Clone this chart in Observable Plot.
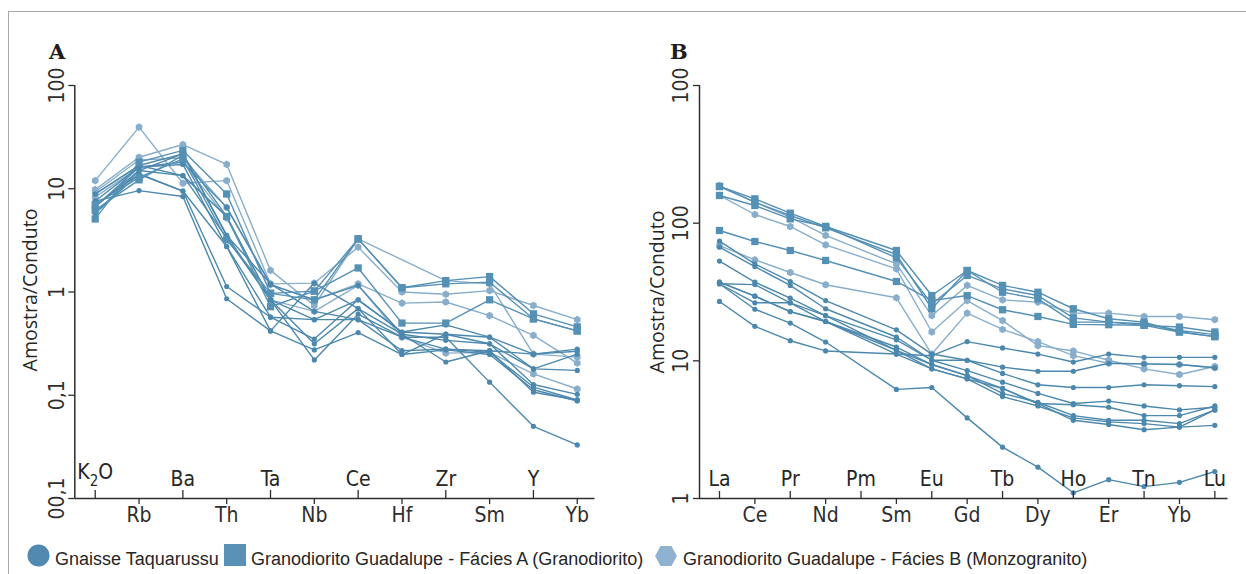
<!DOCTYPE html>
<html>
<head>
<meta charset="utf-8">
<script src="https://cdn.jsdelivr.net/npm/d3@7"></script>
<script src="https://cdn.jsdelivr.net/npm/@observablehq/plot@0.6"></script>
<style>
html, body { margin: 0; padding: 0; background: #ffffff; }
#root { position: relative; width: 1246px; height: 574px; overflow: hidden; }
#frame { position: absolute; left: 8px; top: 11px; width: 1300px; height: 620px;
  border-top: 1.5px solid #a9a9a9; border-left: 1.5px solid #a9a9a9; box-sizing: border-box; }
.panel { position: absolute; top: 0; }
#overlay { position: absolute; left: 0; top: 0; }
</style>
</head>
<body>
<div id="root">
  <div id="frame"></div>
  <div id="panelA" class="panel" style="left:0px;width:620px;"></div>
  <div id="panelB" class="panel" style="left:620px;width:626px;"></div>
  <svg id="overlay" width="1246" height="574"></svg>
</div>
<script>
// ---------------- DATA ----------------
// Panel A: multi-element spider diagram (Amostra/Conduto)
const catsA = ["K2O", "Rb", "Ba", "Th", "Ta", "Nb", "Ce", "Hf", "Zr", "Sm", "Y", "Yb"];
const yTicksA = [0.01, 0.1, 1, 10, 100];
const yLabelsA = ["00,1", "0,1", "1", "10", "100"];

const gnaisseA = [
  [8.9, 16.8, 21.8, 3.53, 0.84, 0.22, 0.61, 0.365, 0.365, 0.134, 0.050, 0.033],
  [7.6, 16.2, 17.2, 2.76, 0.57, 0.35, 0.84, 0.41, 0.39, 0.365, 0.18, 0.174],
  [6.7, 15.0, 13.4, 3.35, 0.84, 0.315, 0.69, 0.39, 0.34, 0.315, 0.127, 0.102],
  [5.8, 13.9, 9.5, 1.13, 0.57, 0.54, 0.54, 0.365, 0.28, 0.26, 0.12, 0.090],
  [7.6, 9.6, 8.4, 0.86, 0.42, 0.275, 0.405, 0.248, 0.275, 0.248, 0.113, 0.088],
  [6.7, 16.2, 18.1, 6.6, 1.18, 0.84, 1.16, 0.39, 0.21, 0.27, 0.25, 0.28],
  [5.8, 15.0, 21.8, 3.53, 1.20, 0.65, 0.54, 0.27, 0.28, 0.27, 0.107, 0.090],
  [8.9, 16.8, 13.4, 5.4, 0.84, 0.54, 0.84, 0.41, 0.48, 0.365, 0.25, 0.267],
  [7.0, 13.9, 9.5, 2.76, 0.42, 1.22, 0.69, 0.248, 0.39, 0.315, 0.18, 0.25]
];
const faciesA_A = [
  [5.1, 18.1, 23.5, 8.9, 0.97, 1.02, 3.27, 1.10, 1.29, 1.41, 0.615, 0.46],
  [6.2, 12.2, 21.0, 5.4, 0.72, 1.02, 1.71, 0.50, 0.50, 0.84, 0.55, 0.42],
  [7.0, 12.9, 19.5, 3.2, 0.97, 0.84, 3.27, 1.10, 1.20, 1.245, 0.55, 0.42]
];
const faciesB_A = [
  [12.0, 39.5, 11.3, 12.0, 1.20, 1.22, 2.72, 1.0, 0.95, 1.03, 0.74, 0.54],
  [9.8, 20.2, 26.8, 17.2, 1.62, 0.74, 3.27, null, 1.29, 1.20, 0.25, 0.234],
  [9.3, 19.0, 19.9, 6.6, 1.18, 0.84, 1.20, 0.78, 0.80, 0.59, 0.38, 0.205],
  [8.3, 16.2, 18.1, 5.2, 0.84, 0.65, 1.16, 0.365, 0.256, 0.26, 0.161, 0.115]
];

// Panel B: REE spider diagram
const catsB = ["La", "Ce", "Pr", "Nd", "Pm", "Sm", "Eu", "Gd", "Tb", "Dy", "Ho", "Er", "Tn", "Yb", "Lu"];
const yTicksB = [1, 10, 100, 1000];
const yLabelsB = ["1", "10", "100", "100"];

const gnaisseB = [
  [36.3, 23.7, 18.8, 13.7, null, 6.2, 6.4, 3.85, 2.36, 1.69, 1.10, 1.37, 1.22, 1.31, 1.57],
  [27.0, 17.8, 14.0, 11.8, null, 11.2, 10.9, 13.8, 12.4, 11.2, 9.8, 11.2, 10.6, 10.6, 10.6],
  [74.0, 50.6, 37.7, 27.4, null, 16.8, 11.2, 10.1, 9.0, 8.4, 8.4, 9.6, 9.5, 9.4, 8.9],
  [66.9, 48.4, 35.3, 23.9, null, 14.9, 10.1, 10.1, 8.1, 6.7, 6.4, 6.4, 6.7, 6.6, 6.5],
  [53.0, 37.3, 28.5, 21.3, null, 14.2, 10.1, 8.5, 7.0, 5.8, 4.9, 5.1, 4.7, 4.4, 4.6],
  [36.3, 35.8, 26.4, 19.3, null, 12.6, 9.4, 7.8, 6.3, 4.9, 4.8, 4.6, 4.0, 4.0, 4.7],
  [37.3, 29.5, 22.8, 19.3, null, 11.9, 9.4, 7.8, 5.8, 5.0, 4.0, 3.7, 3.7, 3.5, 4.4],
  [36.3, 26.4, 26.4, 21.3, null, 11.9, 8.75, 7.4, 5.5, 4.7, 3.85, 3.6, 3.5, 3.3, 3.4],
  [37.3, 29.5, 22.8, 19.3, null, 11.2, 8.75, 7.4, 6.3, 4.9, 3.7, 3.45, 3.16, 3.3, 4.4]
];
const faciesA_B = [
  [184.6, 150.2, 118.2, 94.6, null, 63.3, 29.8, 45.3, 35.3, 31.5, 23.9, 20.2, 19.1, 16.2, 15.0],
  [158.9, 134.4, 107.5, 94.6, null, 56.0, 25.9, 41.7, 33.3, 29.8, 20.5, 19.1, 18.1, 17.6, 16.2],
  [88.5, 73.6, 63.3, 53.6, null, 37.7, 27.4, 29.8, 23.5, 21.0, 18.4, 18.3, 18.1, 16.2, 15.0],
  [184.6, 142.0, 113.7, 92.5, null, 59.2, 23.9, 45.3, 31.5, 28.2, 19.1, 19.1, 18.6, 16.6, 15.5]
];
const faciesB_B = [
  [187.7, 142.0, 110.6, 81.4, null, 50.6, 21.3, 35.3, 27.7, 26.7, 22.2, 22.2, 21.0, 21.0, 19.9],
  [158.9, 115.6, 94.6, 69.6, null, 46.6, 16.2, 27.4, 19.6, 12.9, 11.8, 10.1, 8.75, 7.96, 9.1],
  [68.8, 54.2, 43.8, 35.7, null, 28.7, 11.2, 22.2, 16.9, 13.8, 10.9, 9.6, 9.5, 9.4, 8.9]
];

const groupNames = [
  "Gnaisse Taquarussu",
  "Granodiorito Guadalupe - Fácies A (Granodiorito)",
  "Granodiorito Guadalupe - Fácies B (Monzogranito)"
];

// ---------------- STYLE ----------------
const colGnaisse = "#4c88ad";
const colFaciesA = "#5590b5";
const colFaciesB = "#88aecb";
const axisColor = "#2e2e2e";
const textColor = "#262626";
const tickFont = "'Liberation Sans Narrow', 'DejaVu Sans Condensed', 'Liberation Sans', sans-serif";

function records(rows, tag) {
  const out = [];
  rows.forEach((vals, s) => vals.forEach((v, i) => {
    if (v != null) out.push({series: tag + s, i, v});
  }));
  return out;
}

function dataMarks(gn, fa, fb) {
  const rG = records(gn, "g"), rA = records(fa, "a"), rB = records(fb, "b");
  const line = (r, c) => Plot.line(r, {x: "i", y: "v", z: "series", stroke: c, strokeWidth: 1.4, strokeLinejoin: "round"});
  return [
    line(rB, colFaciesB),
    Plot.dot(rB, {x: "i", y: "v", symbol: "hexagon", r: 3.3, fill: colFaciesB}),
    line(rG, colGnaisse),
    Plot.dot(rG, {x: "i", y: "v", symbol: "circle", r: 2.6, fill: colGnaisse}),
    line(rA, colFaciesA),
    Plot.dot(rA, {x: "i", y: "v", symbol: "square", r: 4.1, fill: colFaciesA})
  ];
}

function panel({cats, xDomain, yDomain, yTicks, yLabels, width, marginLeft, marginRight, tickPad, upTick, gn, fa, fb}) {
  const even = cats.map((_, i) => i).filter(i => i % 2 === 0);
  const odd = cats.map((_, i) => i).filter(i => i % 2 === 1);
  const height = 540, marginTop = 85, marginBottom = 42;
  const frameH = height - marginTop - marginBottom;
  const evenPlain = even.filter(i => cats[i] !== "K2O");
  const evenK = even.filter(i => cats[i] === "K2O");
  return Plot.plot({
    width, height, marginLeft, marginRight, marginTop, marginBottom,
    x: {type: "linear", domain: xDomain},
    y: {type: "log", domain: yDomain},
    style: {fontFamily: tickFont, fontSize: "21px", color: textColor, background: "transparent", overflow: "visible"},
    marks: [
      ...dataMarks(gn, fa, fb),
      Plot.ruleX([xDomain[0]], {stroke: axisColor, strokeWidth: 1.5}),
      Plot.ruleY([yDomain[0]], {stroke: axisColor, strokeWidth: 1.5}),
      Plot.axisY({
        ticks: yTicks, tickFormat: d => yLabels[yTicks.indexOf(d)],
        tickRotate: -90, tickSize: 6, tickPadding: tickPad, label: null,
        fontSize: 21, fontFamily: tickFont, color: axisColor, strokeWidth: 1.3
      }),
      Plot.axisX({
        ticks: odd, tickFormat: i => cats[i], tickSize: 6, tickPadding: 3, label: null,
        fontSize: 21, fontFamily: tickFont, color: axisColor, strokeWidth: 1.3
      }),
      Plot.ruleX(even, {x: d => d, insetTop: frameH - upTick, stroke: axisColor, strokeWidth: 1.3}),
      Plot.text(evenPlain, {x: d => d, text: d => cats[d], frameAnchor: "bottom", lineAnchor: "bottom",
        dy: -13, fontSize: 21, fontFamily: tickFont, fill: textColor}),
      Plot.text(evenK, {x: d => d, text: d => cats[d], frameAnchor: "bottom", lineAnchor: "bottom",
        dy: -20, fontSize: 21, fontFamily: tickFont, fill: textColor})
    ]
  });
}

const plotA = panel({
  cats: catsA, xDomain: [-0.466, 11.405], yDomain: [0.01, 100], yTicks: yTicksA, yLabels: yLabelsA,
  width: 620, marginLeft: 74.3, marginRight: 25.5, tickPad: 5, upTick: 8,
  gn: gnaisseA, fa: faciesA_A, fb: faciesB_A
});
const plotB = panel({
  cats: catsB, xDomain: [-0.565, 14.372], yDomain: [1, 1000], yTicks: yTicksB, yLabels: yLabelsB,
  width: 626, marginLeft: 79, marginRight: 18.5, tickPad: 6, upTick: 7,
  gn: gnaisseB, fa: faciesA_B, fb: faciesB_B
});
document.getElementById("panelA").appendChild(plotA);
document.getElementById("panelB").appendChild(plotB);

// K2O with subscript 2
plotA.querySelectorAll("text").forEach(t => {
  if (t.textContent === "K2O") {
    const ns = "http://www.w3.org/2000/svg";
    t.textContent = "";
    const a = document.createElementNS(ns, "tspan"); a.textContent = "K";
    const b = document.createElementNS(ns, "tspan"); b.textContent = "2";
    b.setAttribute("dy", "7"); b.setAttribute("font-size", "15");
    const c = document.createElementNS(ns, "tspan"); c.textContent = "O"; c.setAttribute("dy", "-7");
    t.append(a, b, c);
  }
});

// ---------------- Titles & legend ----------------
const ov = d3.select("#overlay");
ov.append("text").attr("x", 49).attr("y", 59).text("A")
  .attr("font-family", "'DejaVu Serif', serif").attr("font-weight", "bold").attr("font-size", 21).attr("fill", "#1e1e1e");
ov.append("text").attr("x", 670).attr("y", 59).text("B")
  .attr("font-family", "'DejaVu Serif', serif").attr("font-weight", "bold").attr("font-size", 21).attr("fill", "#1e1e1e");
[[37, 290], [664, 292]].forEach(([x, y]) => {
  ov.append("text").attr("transform", `translate(${x},${y}) rotate(-90)`).attr("text-anchor", "middle")
    .attr("font-family", "'Open Sans', 'Liberation Sans', sans-serif").attr("font-size", 19.5)
    .attr("fill", textColor).text("Amostra/Conduto");
});

const legFont = "'Liberation Sans', Arial, sans-serif";
const lg = ov.append("g");
lg.append("circle").attr("cx", 38.5).attr("cy", 555.5).attr("r", 11).attr("fill", "#5189b0");
lg.append("text").attr("x", 55).attr("y", 565).text(groupNames[0]);
lg.append("rect").attr("x", 224).attr("y", 544).attr("width", 22).attr("height", 22).attr("fill", "#5890b6");
lg.append("text").attr("x", 251).attr("y", 565).text(groupNames[1]);
const hx = 666, hy = 556, hr = 11.5;
const hexPts = d3.range(6).map(k => {
  const a = Math.PI / 3 * k;
  return [hx + hr * Math.cos(a) * 0.95, hy + hr * Math.sin(a)];
});
lg.append("polygon").attr("points", hexPts.map(p => p.join(",")).join(" ")).attr("fill", "#8eb2cf");
lg.append("text").attr("x", 683).attr("y", 565).text(groupNames[2]);
lg.selectAll("text").attr("font-family", legFont).attr("font-size", 18).attr("fill", textColor);
</script>
</body>
</html>
